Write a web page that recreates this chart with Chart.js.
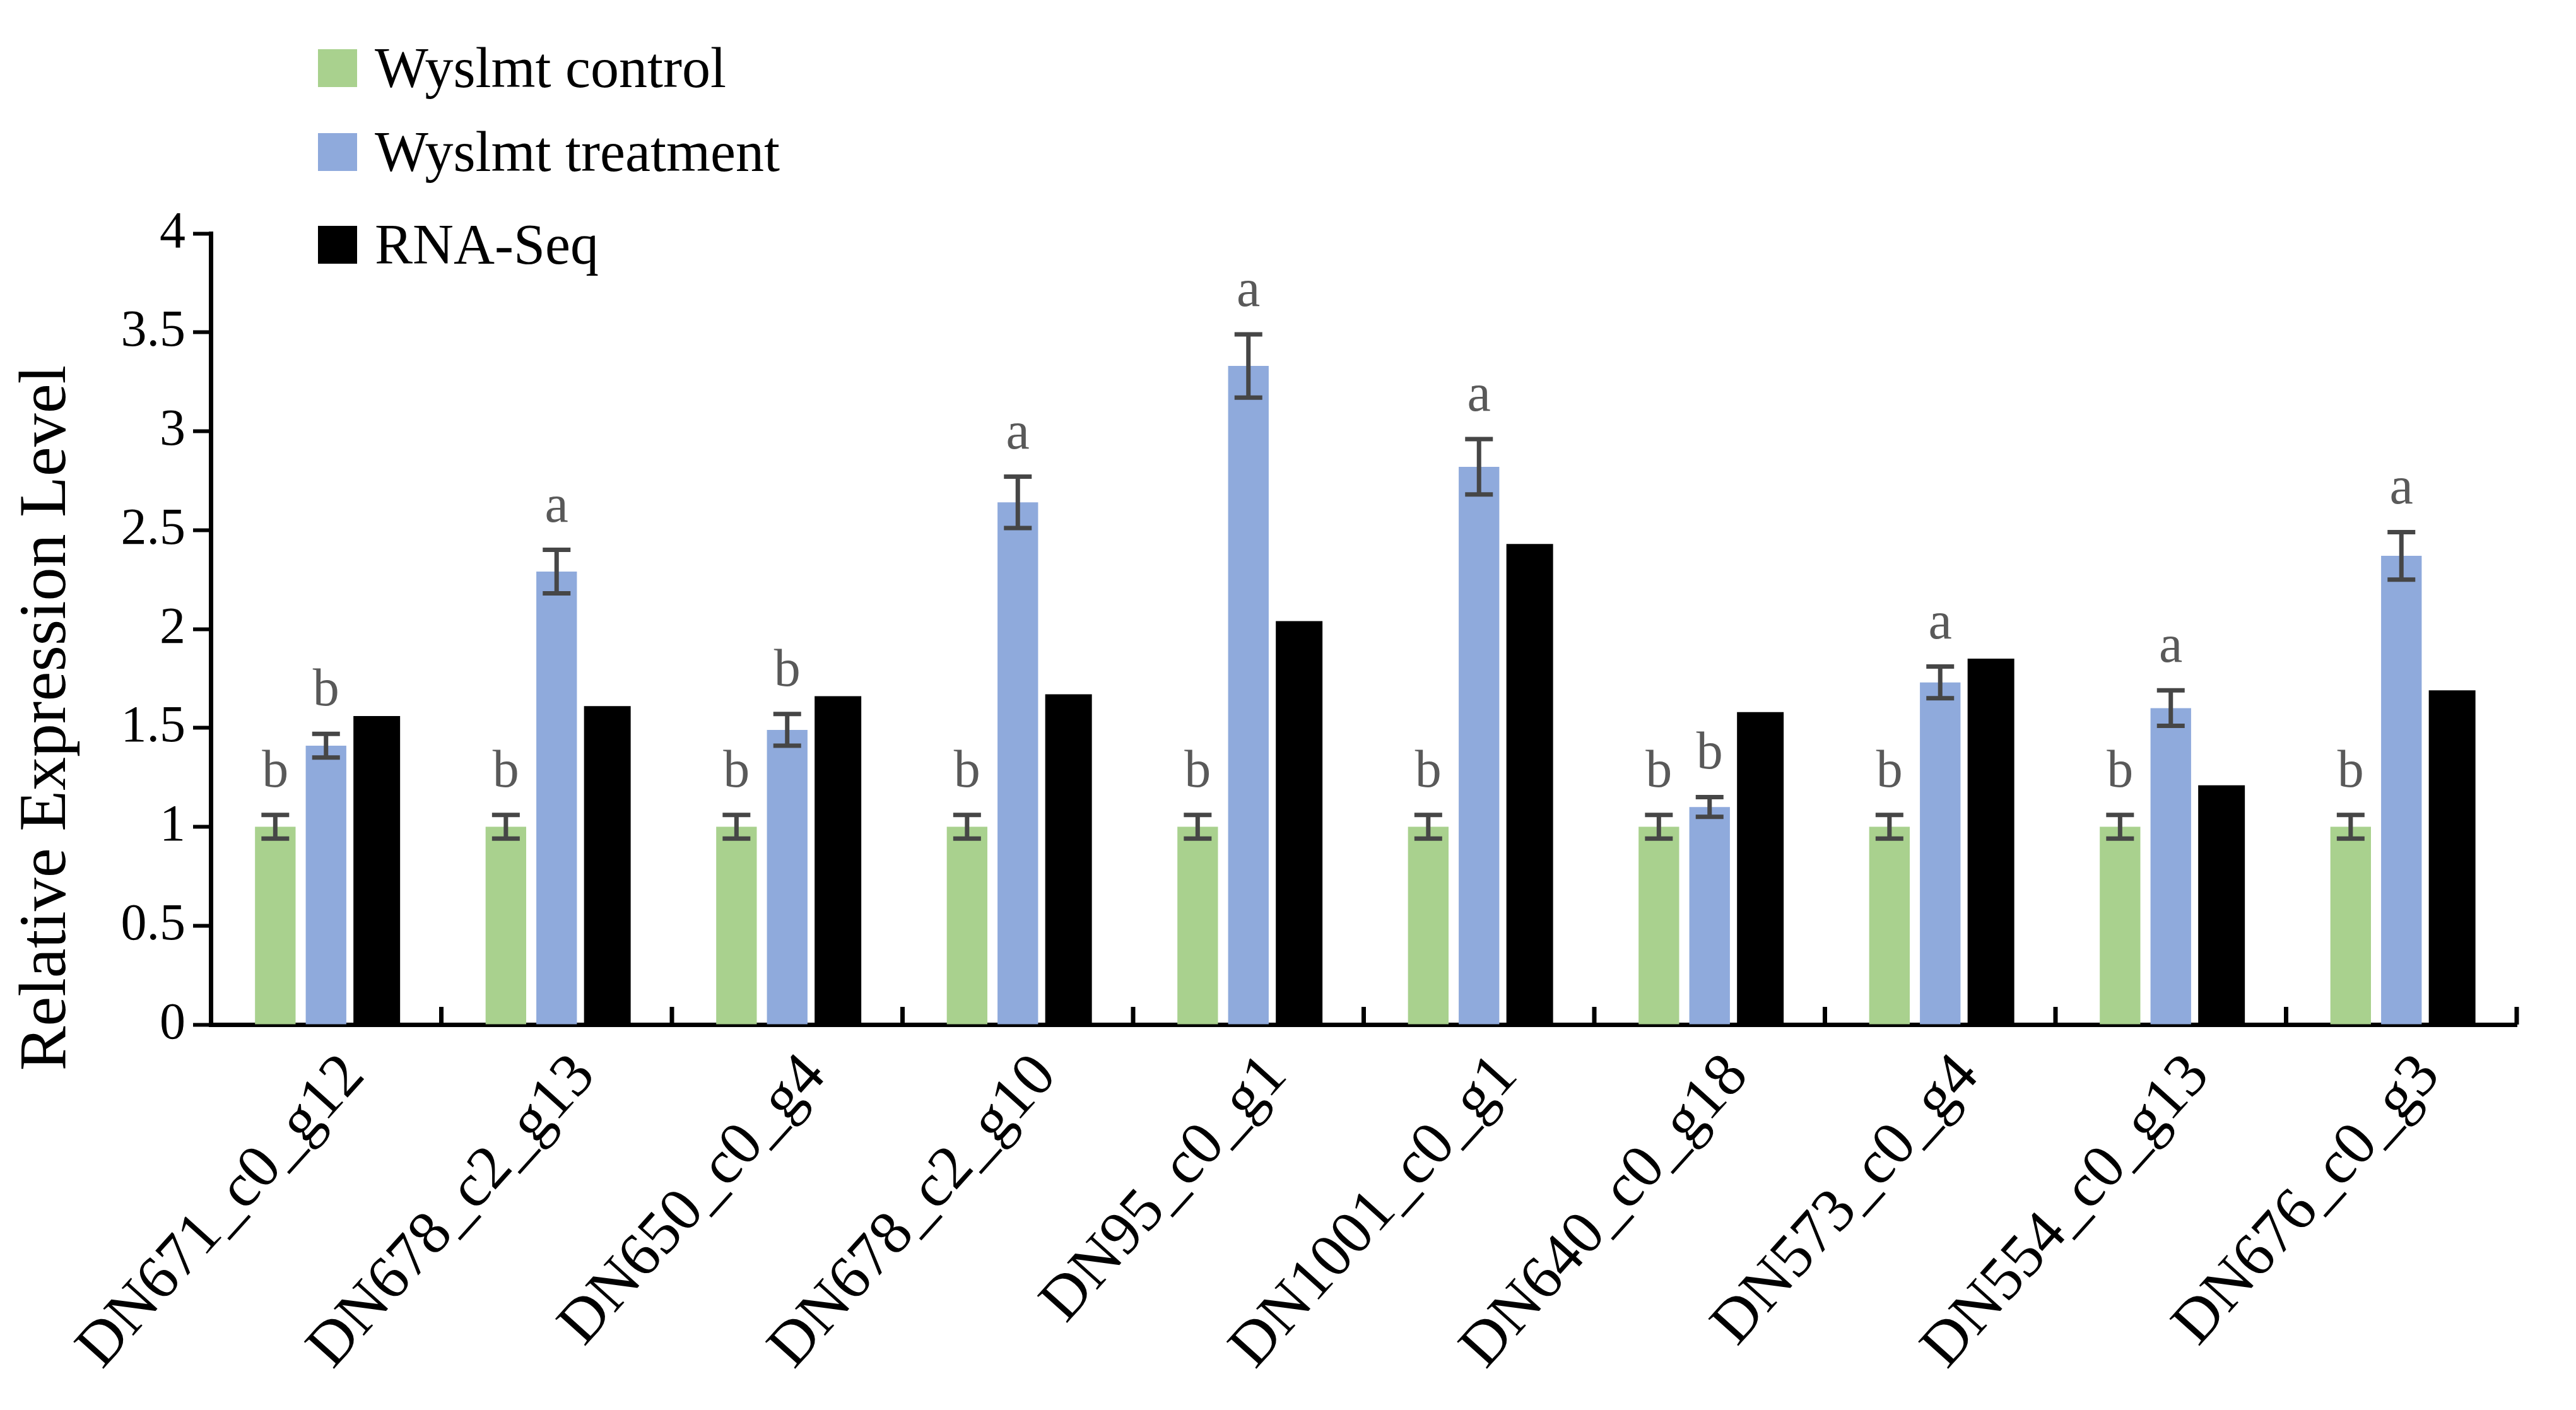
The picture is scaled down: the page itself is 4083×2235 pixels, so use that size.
<!DOCTYPE html>
<html>
<head>
<meta charset="utf-8">
<script src="https://cdn.jsdelivr.net/npm/chart.js@4.4.1/dist/chart.umd.min.js"></script>
<style>
  html, body { margin: 0; padding: 0; background: #fff; }
  #wrap { position: relative; width: 4083px; height: 2235px; }
  #legend { position: absolute; left: 504px; top: 58px; font-family: "Liberation Serif", serif; font-size: 90px; color: #000; }
  .row { position: absolute; left: 0; white-space: nowrap; height: 100px; line-height: 100px; }
  .sw { position: absolute; left: 0; top: 20px; width: 62px; height: 60px; }
  .lt { position: absolute; left: 90px; top: 0; }
</style>
</head>
<body>
<div id="wrap">
  <canvas id="c" width="4083" height="2235"></canvas>
  <div id="legend"></div>
</div>
<script>
// ==============================
// Data
// ==============================
const genes = [
  "DN671_c0_g12", "DN678_c2_g13", "DN650_c0_g4", "DN678_c2_g10", "DN95_c0_g1",
  "DN1001_c0_g1", "DN640_c0_g18", "DN573_c0_g4", "DN554_c0_g13", "DN676_c0_g3"
];
const seriesNames = ["Wyslmt control", "Wyslmt treatment", "RNA-Seq"];

const controlValues = [1, 1, 1, 1, 1, 1, 1, 1, 1, 1];
const controlErrors = [0.06, 0.06, 0.06, 0.06, 0.06, 0.06, 0.06, 0.06, 0.06, 0.06];
const controlLetters = ["b", "b", "b", "b", "b", "b", "b", "b", "b", "b"];

const treatmentValues = [1.41, 2.29, 1.49, 2.64, 3.33, 2.82, 1.10, 1.73, 1.60, 2.37];
const treatmentErrors = [0.06, 0.11, 0.08, 0.13, 0.16, 0.14, 0.05, 0.08, 0.09, 0.12];
const treatmentLetters = ["b", "a", "b", "a", "a", "a", "b", "a", "a", "a"];

const rnaSeqValues = [1.56, 1.61, 1.66, 1.67, 2.04, 2.43, 1.58, 1.85, 1.21, 1.69];

const yTicks = [0, 0.5, 1, 1.5, 2, 2.5, 3, 3.5, 4];
const yTitle = "Relative Expression Level";

const colors = ["#a9d18e", "#8faadc", "#000000"];
const FONT = "Liberation Serif";

// legend (html)
const legendRows = [0, 133, 280];
seriesNames.forEach((n, i) => {
  const row = document.createElement("div");
  row.className = "row";
  row.style.top = legendRows[i] + "px";
  row.innerHTML = '<span class="sw" style="background:' + colors[i] + '"></span><span class="lt">' + n + "</span>";
  document.getElementById("legend").appendChild(row);
});

// ==============================
// Plugin: error bars, letters, inward x ticks, y title
// ==============================
const extras = {
  id: "extras",
  afterDatasetsDraw(chart) {
    const ctx = chart.ctx;
    const y = chart.scales.y;
    const sets = [
      { idx: 0, vals: controlValues, errs: controlErrors, letters: controlLetters },
      { idx: 1, vals: treatmentValues, errs: treatmentErrors, letters: treatmentLetters },
    ];
    ctx.save();
    sets.forEach((s) => {
      const meta = chart.getDatasetMeta(s.idx);
      meta.data.forEach((bar, i) => {
        const top = y.getPixelForValue(s.vals[i] + s.errs[i]);
        const bot = y.getPixelForValue(s.vals[i] - s.errs[i]);
        ctx.strokeStyle = "#464646";
        ctx.lineWidth = 7;
        ctx.beginPath();
        ctx.moveTo(bar.x, top); ctx.lineTo(bar.x, bot);
        ctx.moveTo(bar.x - 22, top); ctx.lineTo(bar.x + 22, top);
        ctx.moveTo(bar.x - 22, bot); ctx.lineTo(bar.x + 22, bot);
        ctx.stroke();
        ctx.fillStyle = "#595959";
        ctx.font = "84px '" + FONT + "'";
        ctx.textAlign = "center";
        ctx.textBaseline = "alphabetic";
        ctx.fillText(s.letters[i], bar.x, top - 45);
      });
    });
    // inward tick marks between categories
    const x = chart.scales.x;
    const step = x.width / genes.length;
    ctx.strokeStyle = "#000";
    ctx.lineWidth = 7;
    ctx.beginPath();
    for (let i = 1; i <= genes.length; i++) {
      const px = x.left + i * step;
      ctx.moveTo(px, x.top);
      ctx.lineTo(px, x.top - 28);
    }
    ctx.stroke();
    // y axis title, sits a bit lower than the axis middle
    ctx.translate(y.left + 55, y.getPixelForValue(1.55));
    ctx.rotate(-Math.PI / 2);
    ctx.fillStyle = "#000";
    ctx.font = "106px '" + FONT + "'";
    ctx.textAlign = "center";
    ctx.textBaseline = "middle";
    ctx.fillText(yTitle, 0, 0);
    ctx.restore();
  },
};

// ==============================
// Chart
// ==============================
new Chart(document.getElementById("c").getContext("2d"), {
  type: "bar",
  data: {
    labels: genes,
    datasets: [
      { label: seriesNames[0], data: controlValues, backgroundColor: colors[0], barPercentage: 0.8, categoryPercentage: 0.66 },
      { label: seriesNames[1], data: treatmentValues, backgroundColor: colors[1], barPercentage: 0.8, categoryPercentage: 0.66 },
      { label: seriesNames[2], data: rnaSeqValues, backgroundColor: colors[2], barPercentage: 0.92, categoryPercentage: 0.66 },
    ],
  },
  options: {
    responsive: false,
    animation: false,
    devicePixelRatio: 1,
    layout: { padding: { left: 20, right: 94, top: 370, bottom: 30 } },
    plugins: {
      legend: { display: false },
      tooltip: { enabled: false },
    },
    scales: {
      x: {
        grid: { display: false },
        border: { display: true, color: "#000", width: 7 },
        ticks: {
          color: "#000",
          font: { family: FONT, size: 98 },
          minRotation: 48,
          maxRotation: 48,
          padding: 18,
          labelOffset: 45,
        },
        afterFit: (s) => { s.height = 2235 - 1624 - 30; },
      },
      y: {
        min: 0,
        max: 4,
        afterBuildTicks: (s) => { s.ticks = yTicks.map((v) => ({ value: v })); },
        grid: { drawOnChartArea: false, drawTicks: true, tickLength: 28, tickWidth: 6, color: "#000" },
        border: { display: true, color: "#000", width: 7 },
        ticks: {
          color: "#000",
          font: { family: FONT, size: 82 },
          padding: 12,
          callback: (v) => String(v),
        },
        afterFit: (s) => { s.width = 334 - 20; },
      },
    },
  },
  plugins: [extras],
});
</script>
</body>
</html>
